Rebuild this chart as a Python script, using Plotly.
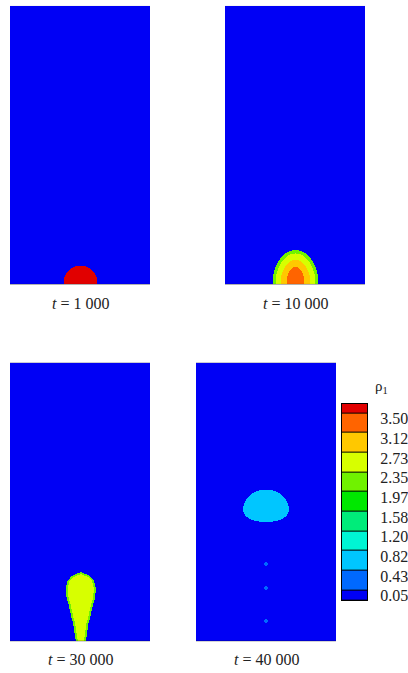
import numpy as np
import plotly.graph_objects as go

# ---------------- data ----------------
levels = [0.05, 0.43, 0.82, 1.20, 1.58, 1.97, 2.35, 2.73, 3.12, 3.50]
level_labels = ["0.05", "0.43", "0.82", "1.20", "1.58", "1.97", "2.35", "2.73", "3.12", "3.50"]
band_colors = [
    "rgb(0,0,245)", "rgb(0,105,255)", "rgb(0,198,255)", "rgb(0,245,212)",
    "rgb(0,236,122)", "rgb(0,232,0)", "rgb(112,242,0)", "rgb(215,255,0)",
    "rgb(255,200,0)", "rgb(255,100,0)", "rgb(225,0,0)",
]
time_labels = ["1 000", "10 000", "30 000", "40 000"]
rho_background = 0.02

# t = 1 000 : half drop sitting on the bottom wall
p1_center_x = 70.5
p1_center_y = 1.5
p1_radius = 16.8
p1_rho = 3.62

# t = 10 000 : dome with nested density bands
p2_center_x = 70.5
p2_band_rho = [2.15, 2.55, 2.92, 3.30]
p2_half_width = [23.0, 20.0, 15.0, 9.0]
p2_height = [34.0, 30.5, 24.0, 17.0]

# t = 30 000 : rising drop with a neck
p3_center_x = 70.8
p3_heights = [0, 8, 17, 23, 30, 37, 43, 52, 60, 65, 69]
p3_half_widths = [5.0, 6.3, 7.5, 9.2, 10.8, 12.3, 14.2, 15.2, 13.2, 9.2, 0.0]
p3_rim_rho = 2.15
p3_core_rho = 2.55
p3_rim_width = 2

# t = 40 000 : detached drop + satellite droplets
p4_center_x = 70.0
p4_mid_height = 133.3
p4_half_width = 22.7
p4_top_semi = 19.0
p4_bottom_semi = 13.3
p4_bottom_exp = 2.6
p4_rho = 0.62
p4_sat_heights = [76.7, 53.3, 20.0]
p4_sat_radius = 1.9
p4_sat_rho = 0.25

# ---------------- grid ----------------
NX, NY = 140, 280
xc = np.arange(NX) + 0.5
yc = np.arange(NY) + 0.5
XX, YY = np.meshgrid(xc, yc)


def field_p1():
    f = np.full((NY, NX), rho_background)
    inside = (XX - p1_center_x) ** 2 + (YY - p1_center_y) ** 2 <= p1_radius ** 2
    f[inside] = p1_rho
    return f


def field_p2():
    f = np.full((NY, NX), rho_background)
    for rho, a, b in zip(p2_band_rho, p2_half_width, p2_height):
        inside = ((XX - p2_center_x) / a) ** 2 + (YY / b) ** 2 <= 1.0
        f[inside] = rho
    return f


def field_p3():
    f = np.full((NY, NX), rho_background)
    w = np.interp(YY, p3_heights, p3_half_widths, right=0.0)
    outer = np.abs(XX - p3_center_x) <= w
    r = p3_rim_width
    pad = np.pad(outer, r, mode="edge")
    inner = np.ones_like(outer)
    for dy in range(-r, r + 1):
        for dx in range(-r, r + 1):
            if dx * dx + dy * dy <= r * r:
                inner &= pad[r + dy:r + dy + NY, r + dx:r + dx + NX]
    f[outer] = p3_rim_rho
    f[inner] = p3_core_rho
    return f


def field_p4():
    f = np.full((NY, NX), rho_background)
    dy = YY - p4_mid_height
    top = dy >= 0
    q = np.where(top,
                 (np.abs(dy) / p4_top_semi) ** 2,
                 (np.abs(dy) / p4_bottom_semi) ** p4_bottom_exp)
    inside = ((XX - p4_center_x) / p4_half_width) ** 2 + q <= 1.0
    f[inside] = p4_rho
    for h in p4_sat_heights:
        sat = (XX - p4_center_x) ** 2 + (YY - h) ** 2 <= p4_sat_radius ** 2
        f[sat] = p4_sat_rho
    return f


fields = [field_p1(), field_p2(), field_p3(), field_p4()]

# ---------------- discrete colour scale ----------------
step = (levels[-1] - levels[0]) / (len(levels) - 1)
cmin = levels[0] - step / 2
cmax = levels[-1] + step / 2
edges = [cmin] + levels + [cmax]
colorscale = []
for k, col in enumerate(band_colors):
    lo = (edges[k] - cmin) / (cmax - cmin)
    hi = (edges[k + 1] - cmin) / (cmax - cmin)
    colorscale.append([max(0.0, lo), col])
    colorscale.append([min(1.0, hi), col])

# ---------------- layout geometry ----------------
W, H = 408, 673
panels_px = [(10, 6, 150, 286), (225, 6, 365, 286), (10, 365, 150, 645), (196, 365, 336, 645)]
label_y_px = [305, 305, 663, 663]
cbar_px = (342, 406, 367, 604)

fig = go.Figure()
layout = dict(
    width=W, height=H, margin=dict(l=0, r=0, t=0, b=0),
    paper_bgcolor="white", plot_bgcolor="black", showlegend=False,
)
annotations = []
serif = "Liberation Serif"

for i, (f, (l, t, r, b)) in enumerate(zip(fields, panels_px)):
    n = i + 1
    xa = "x" if n == 1 else f"x{n}"
    ya = "y" if n == 1 else f"y{n}"
    fig.add_trace(go.Heatmap(
        z=np.round(f, 3), x=xc, y=yc, colorscale=colorscale, zmin=cmin, zmax=cmax,
        showscale=False, xaxis=xa, yaxis=ya, hoverinfo="skip",
    ))
    layout["xaxis" if n == 1 else f"xaxis{n}"] = dict(
        domain=[l / W, r / W], range=[0, NX], visible=False, anchor=ya, fixedrange=True)
    layout["yaxis" if n == 1 else f"yaxis{n}"] = dict(
        domain=[1 - b / H, 1 - t / H], range=[0, NY], visible=False, anchor=xa, fixedrange=True)
    annotations.append(dict(
        text=f"<i>t</i> = {time_labels[i]}", x=(l + r) / 2 / W, y=1 - label_y_px[i] / H,
        xref="paper", yref="paper", xanchor="center", yanchor="middle", showarrow=False,
        font=dict(family=serif, size=16, color="#222"),
    ))

# colour legend as its own heat strip
mids = [(edges[k] + edges[k + 1]) / 2 for k in range(len(band_colors))]
fig.add_trace(go.Heatmap(
    z=[[m] for m in mids], x=[0, 1], y=edges, colorscale=colorscale, zmin=cmin, zmax=cmax,
    showscale=False, xaxis="x5", yaxis="y5", ygap=1, hoverinfo="skip",
))
l, t, r, b = cbar_px
layout["xaxis5"] = dict(domain=[l / W, r / W], range=[0, 1], showticklabels=False, ticks="",
                        showgrid=False, zeroline=False, showline=True, mirror=True,
                        linecolor="black", linewidth=1, anchor="y5", fixedrange=True)
layout["yaxis5"] = dict(domain=[1 - b / H, 1 - t / H], range=[cmin, cmax], side="right",
                        tickvals=levels, ticktext=level_labels, ticks="outside", ticklen=9,
                        tickcolor="rgba(0,0,0,0)", ticklabelshift=5,
                        tickfont=dict(family=serif, size=16, color="#222"),
                        showgrid=False, zeroline=False, showline=True, mirror=True,
                        linecolor="black", linewidth=1, anchor="x5", fixedrange=True)
annotations.append(dict(
    text="ρ<sub>1</sub>", x=381 / W, y=1 - 389 / H, xref="paper", yref="paper",
    xanchor="center", yanchor="middle", showarrow=False,
    font=dict(family=serif, size=15, color="#222"),
))
layout["annotations"] = annotations
fig.update_layout(**layout)
fig.write_html(
    "out.html",
    config={"displayModeBar": False},
    post_script="document.body.style.margin='0';document.body.style.padding='0';"
                "document.documentElement.style.overflow='hidden';",
)
